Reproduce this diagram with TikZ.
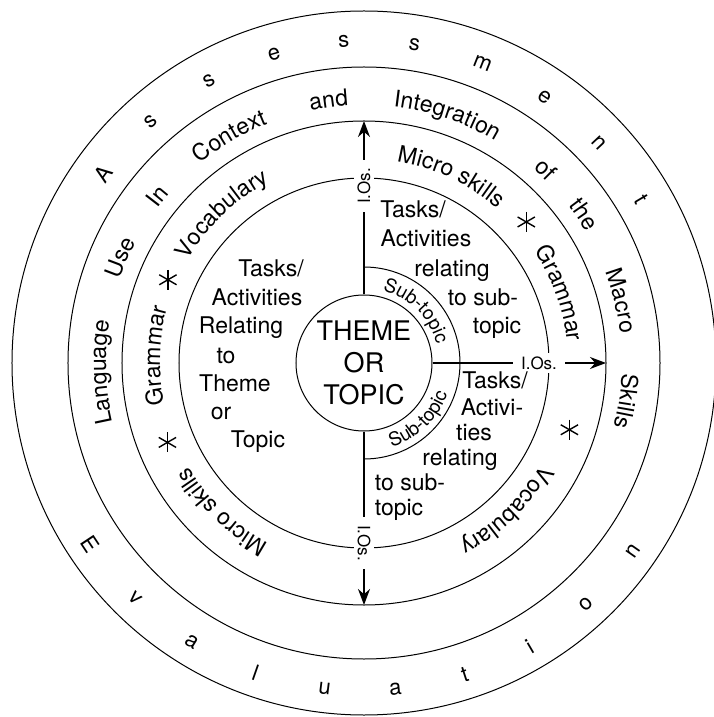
\documentclass[tikz,border=0pt]{standalone}
\usepackage{fontspec}
\setmainfont{TeX Gyre Heros}
\usetikzlibrary{arrows.meta,decorations.text}

\newcommand\ringfont{\fontsize{23}{27}\selectfont}
\newcommand\subfont{\fontsize{19}{21}\selectfont}
% word bent round a ring, clockwise (tops out) or anticlockwise (tops in)
\newcommand\cwword[4][\ringfont]{\path[decorate,decoration={text along path,text align=center,text={|#1|#4}}] (#3+40:#2) arc[start angle=#3+40,end angle=#3-40,radius=#2];}
\newcommand\ccwword[4][\ringfont]{\path[decorate,decoration={text along path,text align=center,text={|#1|#4}}] (#3-40:#2) arc[start angle=#3-40,end angle=#3+40,radius=#2];}

\tikzset{asterisk/.pic={\foreach \k in {30,90,150} \draw[line width=1.4pt] (\k:10pt) -- (\k+180:10pt);}}

\begin{document}
\begin{tikzpicture}[x=1pt,y=1pt,
    ring/.style={line width=1pt},
    spoke/.style={line width=1.6pt},
    arr/.style={spoke,-{Stealth[length=16pt,width=12pt]}},
    txt/.style={font=\ringfont,text height=16pt,text depth=5pt,inner sep=0pt},
    io/.style={font=\fontsize{17}{19}\selectfont,fill=white,inner xsep=8pt,inner ysep=3pt},
    letter/.style={font=\fontsize{22}{24}\selectfont,inner sep=0pt}
  ]
    \useasboundingbox (-364,-354) rectangle (350,363);
    \fill[white] (-364,-354) rectangle (350,363);

    % rings
    \draw[ring] (0,0) circle[radius=185pt];
    \draw[ring] (0,0) circle[radius=242pt];
    \draw[ring] (0,0) circle[radius=296pt];
    \draw[ring] (0,0) circle[radius=352pt];

    % centre and sub-topic band
    \node[circle,draw,ring,minimum size=136pt,inner sep=0pt,align=center,font=\fontsize{27}{32}\selectfont] (theme) at (0,0) {THEME\\OR\\TOPIC};
    \draw[ring] (90:96pt) arc[start angle=90,end angle=-90,radius=96pt];
    \cwword[\subfont]{75pt}{45}{Sub-topic}
    \ccwword[\subfont]{89pt}{-46}{Sub-topic}

    % spokes
    \coordinate (up) at (90:242pt);
    \coordinate (rt) at (0:242pt);
    \coordinate (dn) at (-90:242pt);
    \draw[arr] (theme) -- (up);
    \draw[arr] (theme) -- (rt);
    \draw[arr] (theme) -- (dn);
    \node[io,rotate=90] (ioup) at (0,177) {I.Os.};
    \node[io] (iort) at (175,0) {I.Os.};
    \node[io,rotate=-90] (iodn) at (0,-180) {I.Os.};

    % tasks, left
    \node[txt] (lt1) at (-93,92) {Tasks/};
    \node[txt] (lt2) at (-107,63) {Activities};
    \node[txt] (lt3) at (-123,35) {Relating};
    \node[txt] (lt4) at (-138,5) {to};
    \node[txt] (lt5) at (-129,-23) {Theme};
    \node[txt] (lt6) at (-143,-51) {or};
    \node[txt] (lt7) at (-106,-79) {Topic};
    % tasks, upper right
    \node[txt] (ut1) at (49,151) {Tasks/};
    \node[txt] (ut2) at (62,122) {Activities};
    \node[txt] (ut3) at (88,92) {relating};
    \node[txt] (ut4) at (119,63) {to sub-};
    \node[txt] (ut5) at (133,35) {topic};
    % tasks, lower right
    \node[txt] (dt1) at (131,-20) {Tasks/};
    \node[txt] (dt2) at (128,-47) {Activi-};
    \node[txt] (dt3) at (110,-72) {ties};
    \node[txt] (dt4) at (96,-97) {relating};
    \node[txt] (dt5) at (46,-122) {to sub-};
    \node[txt] (dt6) at (35,-147) {topic};

    % micro skills ring
    \cwword{204pt}{178}{Grammar}
    \cwword{204pt}{133.6}{Vocabulary}
    \cwword{204pt}{65}{Micro skills}
    \cwword{204pt}{19.7}{Grammar}
    \cwword{204pt}{-46}{Vocabulary}
    \cwword{204pt}{-133.8}{Micro skills}
    \pic at (157:213pt) {asterisk};
    \pic at (202:212pt) {asterisk};
    \pic at (41:215pt) {asterisk};
    \pic at (-18:216pt) {asterisk};

    % macro skills ring
    \cwword{258pt}{182}{Language}
    \cwword{258pt}{156.5}{Use}
    \cwword{258pt}{141}{In}
    \cwword{258pt}{120.7}{Context}
    \cwword{258pt}{97.7}{and}
    \cwword{258pt}{71.4}{Integration}
    \cwword{258pt}{46.8}{of}
    \cwword{258pt}{34}{the}
    \cwword{258pt}{13.6}{Macro}
    \cwword{258pt}{-8.3}{Skills}

    % outer ring
    \foreach \l/\a [count=\i] in {A/144,s/131.4,s/118.8,e/106.2,s/93.6,s/81,m/68.4,e/55.8,n/43.2,t/30.6}
      \node[letter,rotate=\a-90] (as\i) at (\a:322pt) {\l};
    \foreach \l/\a [count=\i] in {E/-146.5,v/-134.1,a/-121.7,l/-109.3,u/-96.9,a/-84.5,t/-72.1,i/-59.7,o/-47.3,n/-34.9}
      \node[letter,rotate=\a+90] (ev\i) at (\a:328pt) {\l};
  \end{tikzpicture}
\end{document}
